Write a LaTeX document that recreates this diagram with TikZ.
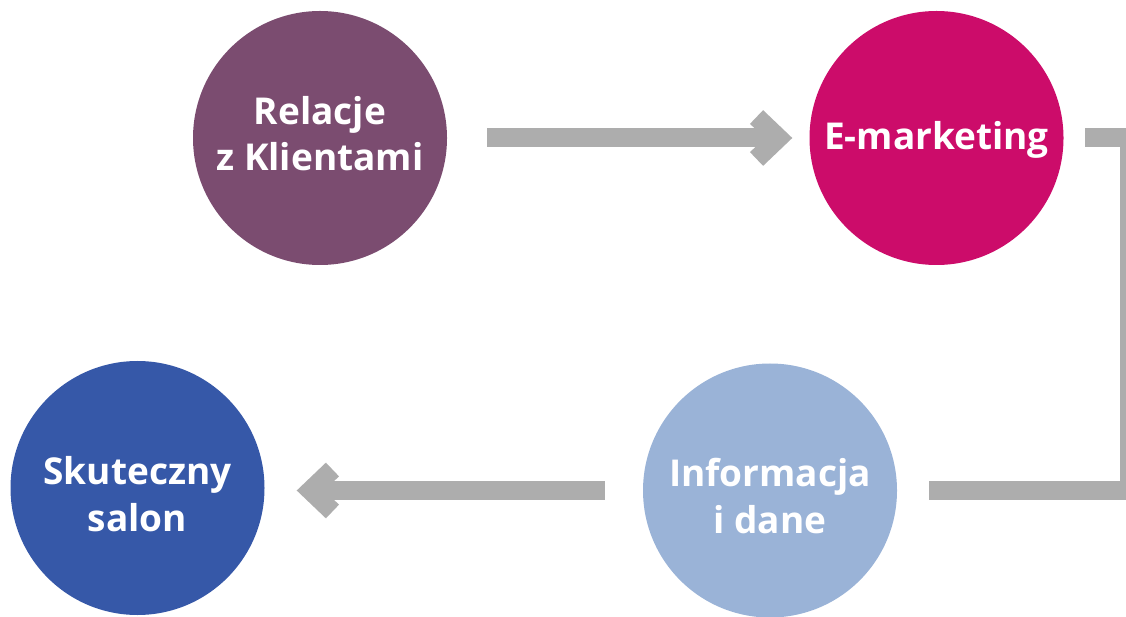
\documentclass[tikz,border=0pt]{standalone}
\usepackage{fontspec}
\setmainfont{Open Sans}
\usetikzlibrary{arrows.meta}
\definecolor{relacje}{RGB}{123,76,112}
\definecolor{emark}{RGB}{204,12,106}
\definecolor{info}{RGB}{154,179,215}
\definecolor{salon}{RGB}{54,88,168}
\definecolor{pipegray}{RGB}{173,173,173}
\begin{document}
\begin{tikzpicture}[x=1pt, y=1pt, line join=miter,
    disc/.style={circle, fill=#1, minimum size=254pt, inner sep=0pt},
    caption/.style={text=white, align=center, inner sep=0pt,
      font=\bfseries\fontsize{37}{46.5}\selectfont},
    pipe/.style={draw=pipegray, line width=19pt},
    chev/.style={-{Straight Barb[length=22pt, width=42pt]}}]
  \useasboundingbox (0,0) rectangle (1126,616);
  \clip (0,0) rectangle (1126,616);
  \node[disc=relacje] (rel) at (320,478) {};
  \node[disc=emark] (emk) at (936.5,478) {};
  \node[disc=info] (inf) at (770,125.5) {};
  \node[disc=salon] (sal) at (137.5,128) {};
  \node[caption] (relt) at ([yshift=4.5]rel) {Relacje\\z Klientami};
  \node[caption] (emkt) at ([yshift=-1.8]emk) {E-marketing};
  \node[caption] (inft) at ([yshift=-5.4]inf) {Informacja\\i dane};
  \node[caption] (salt) at ([yshift=-6.2]sal) {Skuteczny\\salon};
  \coordinate (bend) at (1129,300);
  \draw[pipe, chev] ([xshift=40]rel.east) -- ([xshift=-17]emk.west);
  \draw[pipe] ([xshift=21.5]emk.east) -| (bend) |- ([xshift=32]inf.east);
  \draw[pipe, chev] ([xshift=-38]inf.west) -- ([xshift=32]sal.east |- inf.west);
\end{tikzpicture}
\end{document}
